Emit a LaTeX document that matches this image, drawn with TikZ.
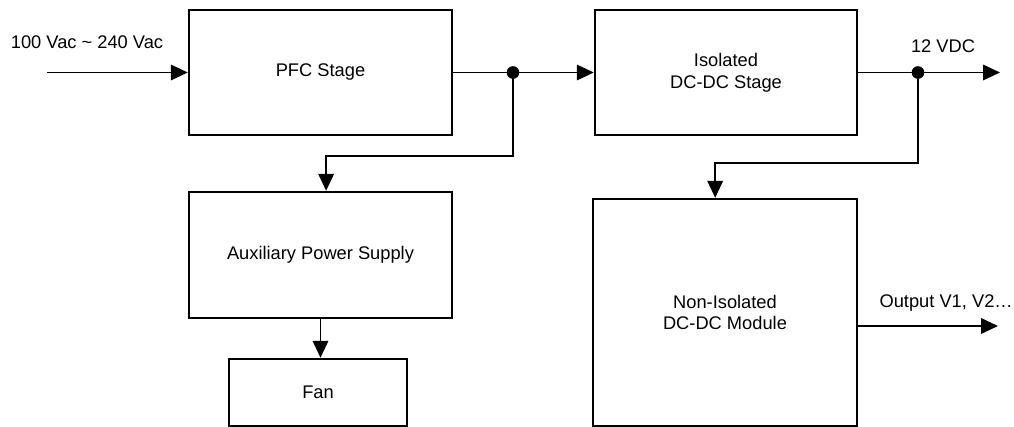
\documentclass[tikz,border=0pt]{standalone}
\usepackage{fontspec}
\setmainfont{Liberation Sans}
\usetikzlibrary{arrows.meta}

\tikzset{
  blk/.style={draw, line width=1.7pt, align=center, inner sep=0pt},
  wire/.style={line width=1.3pt},
  arr/.style={wire, -{Triangle[length=12pt,width=11pt]}},
  dot/.style={circle, fill, inner sep=0pt, minimum size=9pt}
}

\begin{document}
\begin{tikzpicture}[x=0.025cm, y=-0.025cm, font=\fontsize{13}{15.5}\selectfont]
\useasboundingbox (0,0) rectangle (1014,427);

% blocks
\node[blk, minimum width=6.575cm, minimum height=3.125cm] (pfc) at (320.5,72.5) {PFC Stage};
\node[blk, minimum width=6.55cm, minimum height=3.125cm] (iso) at (726,72.5) {Isolated\\DC-DC Stage};
\node[blk, minimum width=6.575cm, minimum height=3.15cm] (aux) at (320.5,255) {Auxiliary Power Supply};
\node[blk, minimum width=4.45cm, minimum height=1.675cm] (fan) at (318,392.5) {Fan};
\node[blk, minimum width=6.6cm, minimum height=5.675cm] (niso) at (725,312.5) {Non-Isolated\\DC-DC Module};

% end points and junctions
\coordinate (in) at (47,72.5);
\coordinate (j1) at (513,72.5);
\coordinate (j2) at (918,72.5);
\coordinate (out1) at (1000,72.5);
\coordinate (out2) at (998,326);

% connectors
\draw[arr] (in) -- (pfc);
\draw[wire] (pfc) -- (j1);
\draw[arr] (j1) -- (iso);
\draw[arr] (j1) -- (513,156) -| ([xshift=4pt]aux.north);
\draw[arr] (aux.south) -- (aux.south |- fan.north);
\draw[wire] (iso) -- (j2);
\draw[arr] (j2) -- (out1);
\draw[arr] (j2) -- (918,163) -| ([xshift=-7pt]niso.north);
\draw[arr] (niso.east |- out2) -- (out2);

\node[dot] (d1) at (j1) {};
\node[dot] (d2) at (j2) {};

% labels
\node (inlbl) at (87,42) {100 Vac \textasciitilde{} 240 Vac};
\node (vdclbl) at (943,46) {12 VDC};
\node[anchor=east, inner sep=0pt] (outlbl) at (1013,303) {Output V1, V2…};
\end{tikzpicture}
\end{document}
